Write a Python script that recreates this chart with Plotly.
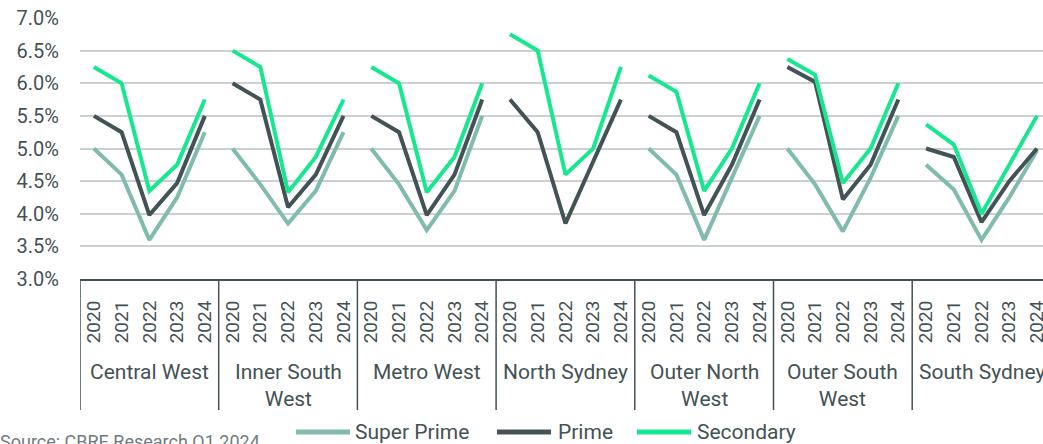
import plotly.graph_objects as go

# Categories
years = ["2020", "2021", "2022", "2023", "2024"]
regions = ["Central West", "Inner South<br>West", "Metro West", "North Sydney",
           "Outer North<br>West", "Outer South<br>West", "South Sydney"]

# Yields (%) per region, 2020-2024
super_prime = [
    [5.00, 4.60, 3.60, 4.25, 5.25],   # Central West
    [5.00, 4.45, 3.85, 4.35, 5.25],   # Inner South West
    [5.00, 4.45, 3.75, 4.35, 5.50],   # Metro West
    [None, None, None, None, None],   # North Sydney
    [5.00, 4.60, 3.60, 4.55, 5.50],   # Outer North West
    [5.00, 4.45, 3.73, 4.55, 5.50],   # Outer South West
    [4.75, 4.37, 3.60, 4.25, 4.97],   # South Sydney
]
prime = [
    [5.50, 5.25, 3.98, 4.47, 5.50],
    [6.00, 5.75, 4.10, 4.60, 5.50],
    [5.50, 5.25, 3.98, 4.60, 5.75],
    [5.75, 5.25, 3.85, 4.80, 5.75],
    [5.50, 5.25, 3.98, 4.75, 5.75],
    [6.25, 6.02, 4.22, 4.75, 5.75],
    [5.00, 4.87, 3.87, 4.50, 5.00],
]
secondary = [
    [6.25, 6.00, 4.35, 4.75, 5.75],
    [6.50, 6.25, 4.33, 4.87, 5.75],
    [6.25, 6.00, 4.33, 4.87, 6.00],
    [6.75, 6.50, 4.60, 5.00, 6.25],
    [6.12, 5.87, 4.35, 5.00, 6.00],
    [6.37, 6.13, 4.47, 5.00, 6.00],
    [5.37, 5.06, 4.00, 4.75, 5.50],
]

series_names = ["Super Prime", "Prime", "Secondary"]
series_colors = ["#80BBAD", "#435254", "#17E88F"]
series_data = [super_prime, prime, secondary]

y_ticks = [3.0, 3.5, 4.0, 4.5, 5.0, 5.5, 6.0, 6.5, 7.0]
y_ticktext = [f"{v:.1f}%" for v in y_ticks]
source_note = "Source: CBRE Research Q1 2024"

TEXT = "#435254"
FONT = "Roboto"
n_years = len(years)

fig = go.Figure()

# One trace per series; gaps separate the regional groups
for name, color, data in zip(series_names, series_colors, series_data):
    xs, ys = [], []
    for g, vals in enumerate(data):
        for i, v in enumerate(vals):
            xs.append(g * n_years + i)
            ys.append(v)
        xs.append(None)
        ys.append(None)
    fig.add_trace(go.Scatter(
        x=xs, y=ys, mode="lines", name=name,
        line=dict(color=color, width=4),
        connectgaps=False, showlegend=False, hoverinfo="skip",
    ))

# Year tick labels on the category axis
tickvals = [g * n_years + i for g in range(len(regions)) for i in range(n_years)]
ticktext = [y for _ in regions for y in years]

W, H = 1043, 444
L, R, T, B = 80, 0, 18, 165
plot_h = H - T - B
plot_w = W - L - R
px_per_cat = 27.74


def py(px_from_axis):
    """Paper y for a pixel offset below the x axis."""
    return -px_from_axis / plot_h


# Group dividers below the axis
shapes = []
for g in range(len(regions) + 1):
    shapes.append(dict(
        type="line", xref="x", yref="paper",
        x0=g * n_years - 0.5, x1=g * n_years - 0.5,
        y0=0, y1=py(131),
        line=dict(color=TEXT, width=1.5),
    ))

annotations = []
for g, label in enumerate(regions):
    annotations.append(dict(
        x=g * n_years + (n_years - 1) / 2, xref="x",
        y=py(79), yref="paper", yanchor="top", xanchor="center",
        text=label, showarrow=False,
        font=dict(family=FONT, size=21, color=TEXT),
    ))

# Legend drawn as line swatches with labels
legend_y = py(153)
legend_items = [(296, 353), (497, 556), (637, 695)]
for (x0, tx), name, color in zip(legend_items, series_names, series_colors):
    shapes.append(dict(
        type="line", xref="paper", yref="paper",
        x0=(x0 - L) / plot_w, x1=(x0 + 54 - L) / plot_w,
        y0=legend_y, y1=legend_y,
        line=dict(color=color, width=5),
    ))
    annotations.append(dict(
        x=(tx - L) / plot_w, xref="paper", xanchor="left",
        y=legend_y, yref="paper", yanchor="middle",
        text=name, showarrow=False,
        font=dict(family=FONT, size=21, color=TEXT),
    ))

annotations.append(dict(
    x=(-2 - L) / plot_w, xref="paper", xanchor="left",
    y=py(162), yref="paper", yanchor="middle",
    text=source_note, showarrow=False,
    font=dict(family=FONT, size=18, color="#6F7C7E"),
))

fig.update_layout(
    width=W, height=H,
    margin=dict(l=L, r=R, t=T, b=B, pad=0, autoexpand=False),
    paper_bgcolor="white", plot_bgcolor="white",
    showlegend=False,
    shapes=shapes, annotations=annotations,
    xaxis=dict(
        range=[-0.5, -0.5 + plot_w / px_per_cat],
        tickmode="array", tickvals=tickvals, ticktext=ticktext,
        tickangle=-90, tickfont=dict(family=FONT, size=19, color=TEXT),
        showgrid=False, zeroline=False,
        showline=True, linecolor=TEXT, linewidth=2,
        ticks="", ticklabelstandoff=12, ticklabeloverflow="allow",
        automargin=False,
    ),
    yaxis=dict(
        range=[3.0, 7.0], tickmode="array", tickvals=y_ticks,
        ticktext=y_ticktext,
        tickfont=dict(family=FONT, size=20, color=TEXT),
        showgrid=True, gridcolor="#CBD1D3", gridwidth=2,
        zeroline=False, showline=False, ticks="",
        ticklabelstandoff=20, automargin=False,
    ),
)

fig.write_html("out.html")
